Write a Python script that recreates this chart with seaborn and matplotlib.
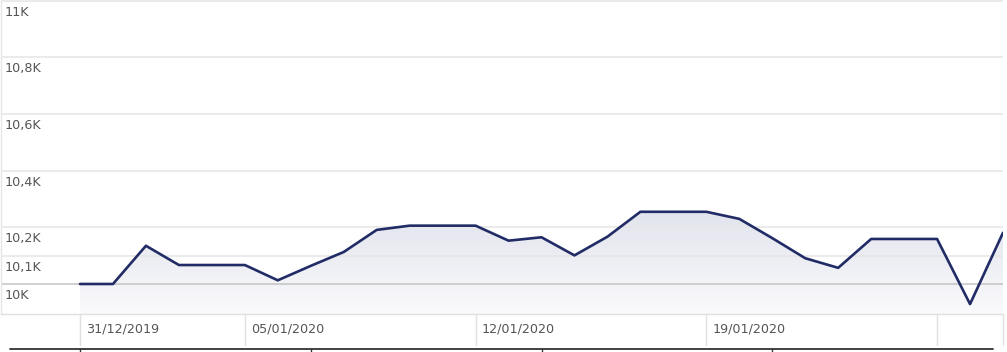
import matplotlib
matplotlib.use('Agg')
import matplotlib.dates as mdates
import matplotlib.pyplot as plt
import matplotlib.transforms as mtransforms
import numpy as np
import pandas as pd
import seaborn as sns
from matplotlib.colors import LinearSegmentedColormap
from matplotlib.lines import Line2D

# daily values, 31/12/2019 .. 28/01/2020
dates = pd.date_range('2019-12-31', '2020-01-28', freq='D')
values = [10000, 10000, 10135, 10067, 10067, 10067, 10013, 10064, 10113, 10191,
          10206, 10206, 10206, 10153, 10165, 10101, 10167, 10255, 10255, 10255,
          10230, 10162, 10091, 10057, 10159, 10159, 10159, 9929, 10181]

grid_values = [10000, 10100, 10200, 10400, 10600, 10800, 11000]
grid_labels = ['10K', '10,1K', '10,2K', '10,4K', '10,6K', '10,8K', '11K']
tick_dates = pd.to_datetime(['2019-12-31', '2020-01-05', '2020-01-12', '2020-01-19', '2020-01-26'])
tick_labels = ['31/12/2019', '05/01/2020', '12/01/2020', '19/01/2020', '']
nav_dates = pd.to_datetime(['2019-12-31', '2020-01-07', '2020-01-14', '2020-01-21'])

LINE = '#212c66'
TEXT = '#555555'
GRID = '#e6e6e6'
Y_MIN, Y_MAX = 9894, 11003
FS = 9.2

sns.set_theme(style='white')
plt.rcParams['font.family'] = ['DejaVu Sans']

W, H = 1007, 352
fig = plt.figure(figsize=(W / 100, H / 100), dpi=100)
ax = fig.add_axes([1 / W, 38 / H, 1002 / W, 314 / H])

df = pd.DataFrame({'date': dates, 'value': values})
sns.lineplot(data=df, x='date', y='value', color=LINE, linewidth=1.9, ax=ax, zorder=5)

# gradient under the line
xs = mdates.date2num(dates)
poly = ax.fill_between(xs, values, Y_MIN, color='none', lw=0)
cmap = LinearSegmentedColormap.from_list('fade', ['#fafafc', '#e2e4ed'])
grad = np.linspace(0, 1, 256).reshape(-1, 1)
im = ax.imshow(grad, extent=[xs[0], xs[-1], Y_MIN, max(values)], aspect='auto',
               cmap=cmap, origin='lower', zorder=1)
im.set_clip_path(poly.get_paths()[0], transform=ax.transData)

for v in grid_values:
    ax.axhline(v, color='#c4c4c4' if v == 10000 else GRID, lw=1.1, zorder=2)

first = mdates.date2num(dates[0])
ax.set_xlim(first - 79 / 32.96, xs[-1])
ax.set_ylim(Y_MIN, Y_MAX)
ax.set_xticks([])
ax.set_yticks([])
ax.set_xlabel('')
ax.set_ylabel('')
for side in ['top', 'right']:
    ax.spines[side].set_visible(False)
ax.spines['left'].set_color('#e6e6e6')
ax.spines['bottom'].set_color('#e0e0e0')
ax.spines['left'].set_linewidth(1)
ax.spines['bottom'].set_linewidth(1)

for v, lbl in zip(grid_values, grid_labels):
    ax.annotate(lbl, xy=(0, v), xycoords=('axes fraction', 'data'), xytext=(4, -5),
                textcoords='offset pixels', va='top', ha='left', fontsize=FS, color=TEXT)

blend = mtransforms.blended_transform_factory(ax.transData, ax.transAxes)
band = -31 / 314
for d, lbl in zip(tick_dates, tick_labels):
    dn = mdates.date2num(d)
    ax.plot([dn, dn], [0, band], transform=blend, color='#e0e0e0', lw=1, clip_on=False)
    if lbl:
        ax.annotate(lbl, xy=(dn, 0), xycoords=('data', 'axes fraction'), xytext=(6, -8),
                    textcoords='offset pixels', va='top', ha='left', fontsize=FS, color=TEXT)
ax.plot([1, 1], [0, band], transform=ax.transAxes, color='#e0e0e0', lw=1, clip_on=False)

# navigator strip at the very bottom
fig.add_artist(Line2D([10 / W, 993 / W], [3 / H, 3 / H], color='#333333', lw=1.3))
nblend = mtransforms.blended_transform_factory(ax.transData, fig.transFigure)
for d in nav_dates:
    dn = mdates.date2num(d)
    fig.add_artist(Line2D([dn, dn], [0, 3 / H], transform=nblend, color='#333333', lw=1))

fig.savefig('out.png', dpi=100)
